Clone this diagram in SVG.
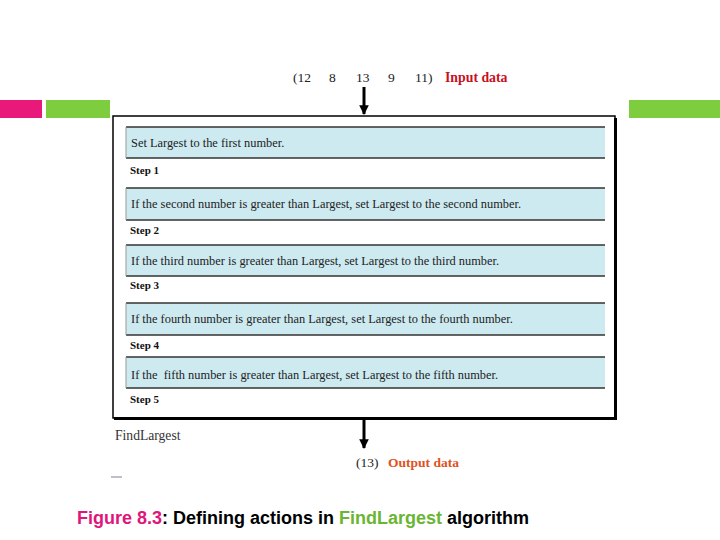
<svg xmlns="http://www.w3.org/2000/svg" width="720" height="540" viewBox="0 0 720 540">
<defs>
<style>
.serif{font-family:"Liberation Serif","Times New Roman",serif;}
.num{font-size:13.5px;fill:#222;}
.step{font-size:11px;font-weight:bold;fill:#111;}
.act{font-size:12.4px;fill:#222;}
.box{fill:#cdeaf1;stroke:none;}
.edge{stroke:#333;stroke-width:1.5;}
.cap{font-family:"Liberation Sans",Arial,sans-serif;font-size:18px;font-weight:bold;}
</style>
<marker id="ah" viewBox="0 0 10 10" refX="9" refY="5" markerWidth="3.2" markerHeight="3.2" orient="auto" markerUnits="strokeWidth">
<path d="M0,0 L10,5 L0,10 z" fill="#000"/>
</marker>
</defs>
<rect width="720" height="540" fill="#fff"/>
<g id="deco">
<rect x="0" y="100" width="42" height="18" fill="#e8197b"/>
<rect x="46" y="100" width="64" height="18" fill="#7ecd3e"/>
<rect x="629" y="100" width="91" height="18" fill="#7ecd3e"/>
</g>
<g id="input">
<text class="serif num" x="293" y="82">(12</text>
<text class="serif num" x="329" y="82">8</text>
<text class="serif num" x="356" y="82">13</text>
<text class="serif num" x="388" y="82">9</text>
<text class="serif num" x="415" y="82">11)</text>
<text class="serif" x="445" y="82" font-size="13.8" font-weight="bold" fill="#c8101e">Input data</text>
</g>
<g id="FindLargest">
<rect x="113" y="116" width="502" height="302" fill="#fff" stroke="#000" stroke-width="1.5"/>
<line x1="615.5" y1="118" x2="615.5" y2="420" stroke="#000" stroke-width="3"/>
<line x1="114" y1="418.5" x2="617" y2="418.5" stroke="#000" stroke-width="3"/>
<text class="serif" x="115" y="440" font-size="13.6" fill="#333">FindLargest</text>
</g>
<g id="step1">
<rect class="box" x="126" y="127" width="479" height="31"/>
<line class="edge" x1="126" y1="127" x2="605" y2="127"/><line class="edge" x1="126" y1="158" x2="605" y2="158"/>
<line x1="126" y1="127" x2="126" y2="158" stroke="#999"/>
<text class="serif act" x="131" y="147">Set Largest to the first number.</text>
<text class="serif step" x="130" y="174">Step 1</text>
</g>
<g id="step2">
<rect class="box" x="126" y="188" width="479" height="32"/>
<line class="edge" x1="126" y1="188" x2="605" y2="188"/><line class="edge" x1="126" y1="220" x2="605" y2="220"/>
<line x1="126" y1="188" x2="126" y2="220" stroke="#999"/>
<text class="serif act" x="131" y="208">If the second number is greater than Largest, set Largest to the second number.</text>
<text class="serif step" x="130" y="234">Step 2</text>
</g>
<g id="step3">
<rect class="box" x="126" y="245" width="479" height="31"/>
<line class="edge" x1="126" y1="245" x2="605" y2="245"/><line class="edge" x1="126" y1="276" x2="605" y2="276"/>
<line x1="126" y1="245" x2="126" y2="276" stroke="#999"/>
<text class="serif act" x="131" y="265">If the third number is greater than Largest, set Largest to the third number.</text>
<text class="serif step" x="130" y="289">Step 3</text>
</g>
<g id="step4">
<rect class="box" x="126" y="303" width="479" height="32"/>
<line class="edge" x1="126" y1="303" x2="605" y2="303"/><line class="edge" x1="126" y1="335" x2="605" y2="335"/>
<line x1="126" y1="303" x2="126" y2="335" stroke="#999"/>
<text class="serif act" x="131" y="323">If the fourth number is greater than Largest, set Largest to the fourth number.</text>
<text class="serif step" x="130" y="349">Step 4</text>
</g>
<g id="step5">
<rect class="box" x="126" y="357" width="479" height="31"/>
<line class="edge" x1="126" y1="357" x2="605" y2="357"/><line class="edge" x1="126" y1="388" x2="605" y2="388"/>
<line x1="126" y1="357" x2="126" y2="388" stroke="#999"/>
<text class="serif act" x="131" y="379" xml:space="preserve">If the  fifth number is greater than Largest, set Largest to the fifth number.</text>
<text class="serif step" x="130" y="403">Step 5</text>
</g>
<g id="output">
<text class="serif num" x="356" y="467">(13)</text>
<text class="serif" x="388" y="467" font-size="13.5" font-weight="bold" fill="#e0521e">Output data</text>
</g>
<g id="connectors">
<line x1="364" y1="87" x2="364" y2="114" stroke="#000" stroke-width="3" marker-end="url(#ah)"/>
<line x1="364" y1="420" x2="364" y2="448" stroke="#000" stroke-width="3" marker-end="url(#ah)"/>
</g>
<line x1="111" y1="477" x2="122" y2="477" stroke="#aab" stroke-width="1.5"/>
<text class="cap" x="77" y="524"><tspan fill="#e0157a">Figure 8.3</tspan><tspan fill="#000">: Defining actions in </tspan><tspan fill="#6ab534">FindLargest</tspan><tspan fill="#000"> algorithm</tspan></text>
</svg>
